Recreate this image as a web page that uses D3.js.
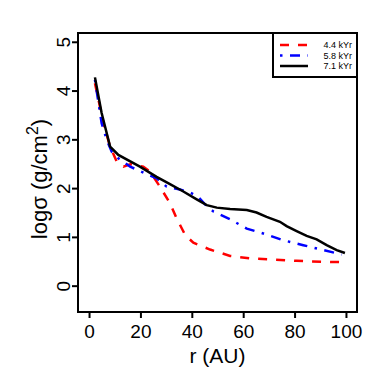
<!doctype html>
<html>
<head>
<meta charset="UTF-8">
<script src="https://cdn.jsdelivr.net/npm/d3@7"></script>
<style>
  body { margin: 0; background: #fff; }
  text { font-family: "Liberation Sans", Arial, Helvetica, sans-serif; }
</style>
</head>
<body>
<svg id="chart" width="390" height="379"></svg>
<script>
// series
var labels = ["4.4 kYr", "5.8 kYr", "7.1 kYr"];
var colors = ["#ff0000", "#0000ff", "#000000"];

var rRed = [2.3, 5.6, 8.2, 10.8, 13.4, 16, 21.1, 23.7, 27.6, 31.5, 34.1, 37.4, 40.6, 47.1, 54.9, 62.6, 70.4, 80.8, 90.6, 99.6];
var sRed = [4.15, 3.33, 2.85, 2.54, 2.44, 2.49, 2.44, 2.34, 2.03, 1.69, 1.38, 1.04, 0.88, 0.74, 0.61, 0.56, 0.54, 0.51, 0.49, 0.48];

var rBlue = [2.3, 4.9, 6.9, 8.8, 11.4, 16, 22.4, 26.3, 30.2, 35.4, 39.3, 42.5, 45.8, 48.4, 54.9, 61.4, 67.8, 75.6, 83.4, 91.2, 98.3];
var sBlue = [4.22, 3.33, 2.99, 2.75, 2.61, 2.44, 2.29, 2.2, 2.03, 1.97, 1.91, 1.82, 1.63, 1.52, 1.36, 1.17, 1.07, 0.93, 0.83, 0.73, 0.64];

var rBlack = [2.3, 4.9, 8.2, 11.4, 19.8, 26.3, 31.5, 36.7, 41.9, 45.8, 49.7, 54.9, 61.4, 65.2, 69.1, 74.3, 76.9, 80.8, 84.7, 88.6, 92.5, 96.4, 99.6];
var sBlack = [4.27, 3.54, 2.85, 2.68, 2.44, 2.23, 2.08, 1.93, 1.77, 1.65, 1.6, 1.57, 1.55, 1.5, 1.41, 1.31, 1.22, 1.12, 1.02, 0.95, 0.83, 0.73, 0.67];

var xTicks = [0, 20, 40, 60, 80, 100];
var yTicks = [0, 1, 2, 3, 4, 5];

var svg = d3.select("#chart");
var pL = 78, pR = 357, pT = 33, pB = 312;

var x = d3.scaleLinear().domain([-4.3, 104.3]).range([pL, pR]);
var y = d3.scaleLinear().domain([-0.54, 5.18]).range([pB, pT]);

var series = [
  { r: rRed, s: sRed, dash: "9,9" },
  { r: rBlue, s: sBlue, dash: "2.5,7.5,10,7.5" },
  { r: rBlack, s: sBlack, dash: null }
];

var line = d3.line().x(function (d) { return x(d[0]); }).y(function (d) { return y(d[1]); });

series.forEach(function (sr, i) {
  svg.append("path")
    .datum(d3.zip(sr.r, sr.s))
    .attr("d", line)
    .attr("fill", "none")
    .attr("stroke", colors[i])
    .attr("stroke-width", 2.5)
    .attr("stroke-dasharray", sr.dash);
});

// axes
var xAxis = svg.append("g")
  .attr("transform", "translate(0," + pB + ")")
  .call(d3.axisBottom(x).tickValues(xTicks).tickFormat(d3.format("d")).tickSize(6).tickPadding(6.5));
xAxis.select(".domain").remove();
xAxis.selectAll("line").attr("stroke-width", 2);
xAxis.selectAll("text").attr("font-size", 19).attr("fill", "#000");

var yAxis = svg.append("g")
  .attr("transform", "translate(" + pL + ",0)")
  .call(d3.axisLeft(y).tickValues(yTicks).tickFormat(d3.format("d")).tickSize(6));
yAxis.select(".domain").remove();
yAxis.selectAll("line").attr("stroke-width", 2);
yAxis.selectAll("text")
  .attr("font-size", 19).attr("fill", "#000")
  .attr("text-anchor", "middle")
  .attr("x", 0).attr("dy", 0)
  .attr("transform", "translate(-8,0) rotate(-90)");

// box
svg.append("rect")
  .attr("x", pL).attr("y", pT)
  .attr("width", pR - pL).attr("height", pB - pT)
  .attr("fill", "none").attr("stroke", "#000").attr("stroke-width", 2);

// titles
svg.append("text")
  .attr("x", (pL + pR) / 2).attr("y", 363)
  .attr("text-anchor", "middle").attr("font-size", 21)
  .text("r (AU)");

var yl = svg.append("text")
  .attr("transform", "translate(47,179) rotate(-90)")
  .attr("text-anchor", "middle").attr("font-size", 22);
yl.append("tspan").text("logσ (g/cm");
yl.append("tspan").attr("dy", -9).attr("font-size", 16).text("2");
yl.append("tspan").attr("dy", 9).text(")");

// legend
var lg = svg.append("g");
lg.append("rect")
  .attr("x", 273).attr("y", pT)
  .attr("width", pR - 273).attr("height", 44)
  .attr("fill", "#fff").attr("stroke", "#000").attr("stroke-width", 2);
var rowY = [45, 55.5, 66];
series.forEach(function (sr, i) {
  lg.append("line")
    .attr("x1", 280).attr("x2", 308)
    .attr("y1", rowY[i]).attr("y2", rowY[i])
    .attr("stroke", colors[i]).attr("stroke-width", 2.5)
    .attr("stroke-dasharray", sr.dash);
  lg.append("text")
    .attr("x", 352).attr("y", rowY[i] + 3)
    .attr("text-anchor", "end").attr("font-size", 9)
    .text(labels[i]);
});
</script>
</body>
</html>
